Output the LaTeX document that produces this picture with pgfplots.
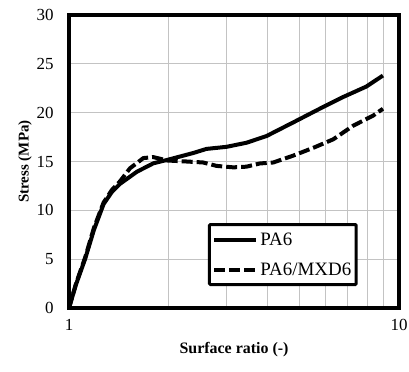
\documentclass[border=0pt]{standalone}
\usepackage{fontspec}
\setmainfont{Liberation Serif}
\usepackage{pgfplots}
\pgfplotsset{compat=1.18}
\definecolor{gridgray}{RGB}{195,195,195}
\begin{document}
\begin{tikzpicture}
\begin{axis}[
  scale only axis,
  width=330bp, height=293bp,
  xmode=log, log basis x=10,
  xmin=1, xmax=10, ymin=0, ymax=30,
  xtick={1,10}, xticklabels={1,10},
  minor xtick={2,3,4,5,6,7,8,9},
  ytick={0,5,10,15,20,25,30},
  major tick length=0pt, minor tick length=0pt,
  xmajorgrids=false, xminorgrids=true, ymajorgrids=true,
  grid style={gridgray, line width=1bp},
  minor grid style={gridgray, line width=1bp},
  axis line style={line width=3.5bp},
  /pgf/number format/assume math mode=true,
  tick label style={font=\fontsize{17}{19}\selectfont},
  yticklabel style={xshift=-12bp},
  xticklabel style={yshift=-8bp},
  xlabel={\textbf{Surface ratio (-)}},
  xlabel style={font=\fontsize{16}{18}\selectfont, yshift=-4bp},
  ylabel={\textbf{Stress (MPa)}},
  ylabel style={font=\fontsize{15}{17}\selectfont, yshift=-2bp},
  legend style={at={(0.421,0.075)}, anchor=south west, draw=black, line width=3bp,
    rounded corners=1bp, font=\fontsize{19}{21}\selectfont, row sep=12bp,
    inner xsep=3bp, inner ysep=6bp},
  legend cell align=left,
  legend image code/.code={\draw[#1, line width=4bp] (-2bp,0bp) -- (40bp,0bp);},
]
\addplot[black, line width=4bp, line join=round] coordinates {
(1,0) (1.05,2.4) (1.12,5.06) (1.19,8.0) (1.273,10.64) (1.35,11.9) (1.43,12.73) (1.606,13.95) (1.803,14.82)
(1.988,15.17) (2.38,15.87) (2.61,16.29) (3.00,16.5) (3.45,16.92) (3.97,17.61)
(4.78,19.0) (5.75,20.4) (6.77,21.6) (7.96,22.67) (8.94,23.8)
};
\addlegendentry{PA6}
\addplot[black, line width=4bp, dash pattern=on 11bp off 4bp, line join=round] coordinates {
(1,0) (1.05,2.5) (1.12,5.2) (1.19,8.2) (1.273,10.8) (1.35,12.1) (1.43,13.0) (1.53,14.3) (1.68,15.35) (1.80,15.45)
(1.99,15.1) (2.27,15.0) (2.55,14.9) (2.80,14.55) (3.15,14.4) (3.45,14.47)
(3.79,14.8) (4.16,14.9) (4.78,15.6) (5.50,16.4) (6.32,17.27) (7.26,18.66)
(8.35,19.7) (8.94,20.4)
};
\addlegendentry{PA6/MXD6}
\end{axis}
\pgfresetboundingbox
\path (-69bp,-64bp) rectangle (340bp,308bp);
\end{tikzpicture}
\end{document}
